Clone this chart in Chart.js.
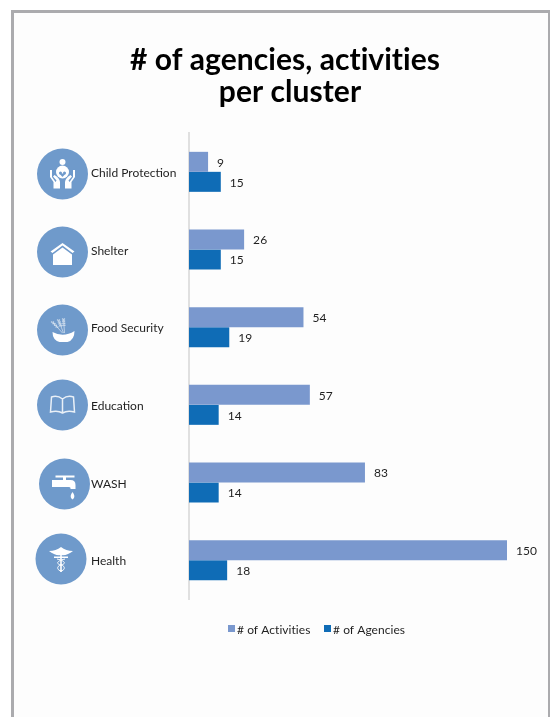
<!DOCTYPE html>
<html>
<head>
<meta charset="utf-8">
<title># of agencies, activities per cluster</title>
<script src="https://cdn.jsdelivr.net/npm/chart.js@4/dist/chart.umd.min.js"></script>
<style>
html, body { margin: 0; padding: 0; background: #fff; }
#frame {
    position: absolute; left: 11px; top: 10px; width: 534px; height: 707px;
    border: solid #ababae; border-width: 3px 3px 0 3px; background: #fdfdfd;
}
#wrap { position: absolute; left: 0; top: 0; width: 550px; height: 717px; }
</style>
</head>
<body>
<div id="frame"></div>
<div id="wrap"><canvas id="chart-area" width="550" height="717"></canvas></div>
<script>
var clusters = ['Child Protection', 'Shelter', 'Food Security', 'Education', 'WASH', 'Health'];
var activities = [9, 26, 54, 57, 83, 150];
var agencies = [15, 15, 19, 14, 14, 18];
var titleLines = ['# of agencies, activities', 'per cluster'];

var FONT = 'Lato, "Open Sans", sans-serif';
var TEXT = '#1f1f1f';
var BADGE = '#6f9acb';

// x, y of each cluster badge, same order as clusters
var badgeSpots = [[62.5, 174], [62.5, 252], [62.5, 330], [62.5, 405], [64.5, 484], [61, 559]];

function roundBlob(ctx, x, y, r) {
    ctx.beginPath();
    ctx.arc(x, y, r, 0, Math.PI * 2);
    ctx.fill();
}

function hand(ctx, s) {
    ctx.beginPath();
    ctx.moveTo(s * 12.5, -4);
    ctx.lineTo(s * 12.5, 3);
    ctx.lineTo(s * 9, 8);
    ctx.lineTo(s * 9, 14.5);
    ctx.lineTo(s * 2.5, 14.5);
    ctx.lineTo(s * 2.5, 8);
    ctx.quadraticCurveTo(s * 3, 4, s * 8, 1);
    ctx.lineTo(s * 9.5, 2.5);
    ctx.lineTo(s * 6, 6.5);
    ctx.lineTo(s * 7, 8);
    ctx.lineTo(s * 10.5, 3);
    ctx.lineTo(s * 10.5, -4);
    ctx.closePath();
    ctx.fill();
}

function wheat(ctx, x0, y0, x1, y1) {
    ctx.beginPath();
    ctx.moveTo(x0, y0);
    ctx.lineTo(x1, y1);
    ctx.stroke();
    for (var t = 0; t < 0.6; t += 0.15) {
        roundBlob(ctx, x0 + (x1 - x0) * t + 0.9, y0 + (y1 - y0) * t, 0.8);
        roundBlob(ctx, x0 + (x1 - x0) * t - 0.9, y0 + (y1 - y0) * t, 0.8);
    }
}

var icons = {
    'Child Protection': function (ctx) {
        roundBlob(ctx, 0, -12, 3);
        roundBlob(ctx, 0, -2, 6.5);
        ctx.fillStyle = BADGE;
        roundBlob(ctx, -2, -1, 1.5);
        roundBlob(ctx, 2, -1, 1.5);
        ctx.beginPath();
        ctx.moveTo(-3.2, -0.4);
        ctx.lineTo(3.2, -0.4);
        ctx.lineTo(0, 3);
        ctx.closePath();
        ctx.fill();
        ctx.fillStyle = '#fff';
        hand(ctx, -1);
        hand(ctx, 1);
    },
    'Shelter': function (ctx) {
        ctx.beginPath();
        ctx.moveTo(0, -9);
        ctx.lineTo(12, -0.5);
        ctx.lineTo(10, 1);
        ctx.lineTo(0, -6.5);
        ctx.lineTo(-10, 1);
        ctx.lineTo(-12, -0.5);
        ctx.closePath();
        ctx.fill();
        ctx.beginPath();
        ctx.moveTo(0, -4.5);
        ctx.lineTo(9.5, 2.5);
        ctx.lineTo(9.5, 13);
        ctx.lineTo(-9.5, 13);
        ctx.lineTo(-9.5, 2.5);
        ctx.closePath();
        ctx.fill();
    },
    'Food Security': function (ctx) {
        ctx.fillStyle = 'rgba(255,255,255,0.65)';
        ctx.strokeStyle = 'rgba(255,255,255,0.65)';
        ctx.lineWidth = 0.8;
        wheat(ctx, -10, -8, 0, 3);
        wheat(ctx, -4, -10, 1, 3);
        wheat(ctx, 1, -11, 2, 3);
        ctx.fillStyle = '#fff';
        ctx.beginPath();
        ctx.moveTo(-10, 2);
        ctx.quadraticCurveTo(1, 8, 12, 1);
        ctx.quadraticCurveTo(12, 10, 5, 12);
        ctx.lineTo(-3, 12);
        ctx.quadraticCurveTo(-10, 10, -10, 2);
        ctx.closePath();
        ctx.fill();
    },
    'Education': function (ctx) {
        ctx.strokeStyle = 'rgba(255,255,255,0.85)';
        ctx.lineWidth = 1.5;
        ctx.beginPath();
        ctx.moveTo(0, -6);
        ctx.quadraticCurveTo(-5, -10, -11, -8);
        ctx.lineTo(-12, 7);
        ctx.quadraticCurveTo(-5, 5, 0, 8);
        ctx.quadraticCurveTo(5, 5, 12, 7);
        ctx.lineTo(11, -8);
        ctx.quadraticCurveTo(5, -10, 0, -6);
        ctx.lineTo(0, 8);
        ctx.stroke();
    },
    'WASH': function (ctx) {
        ctx.fillRect(-9, -8.5, 19, 2);
        ctx.fillRect(-1.5, -7, 3, 3);
        ctx.beginPath();
        ctx.moveTo(-12.5, -4);
        ctx.lineTo(6, -4);
        ctx.quadraticCurveTo(11, -4, 11, 1);
        ctx.lineTo(11, 5);
        ctx.lineTo(6, 5);
        ctx.lineTo(6, 4);
        ctx.quadraticCurveTo(6, 3, 4, 3);
        ctx.lineTo(-12.5, 3);
        ctx.closePath();
        ctx.fill();
        ctx.beginPath();
        ctx.moveTo(8, 8);
        ctx.quadraticCurveTo(12, 13, 8, 15.5);
        ctx.quadraticCurveTo(4, 13, 8, 8);
        ctx.fill();
    },
    'Health': function (ctx) {
        ctx.beginPath();
        ctx.moveTo(-12, -8);
        ctx.quadraticCurveTo(-5, -8, 0, -12);
        ctx.quadraticCurveTo(5, -8, 12, -8);
        ctx.quadraticCurveTo(6, -3, 0, -4);
        ctx.quadraticCurveTo(-6, -3, -12, -8);
        ctx.fill();
        ctx.fillRect(-7, -2.5, 14, 1.5);
        ctx.fillRect(-0.8, -5, 1.6, 18);
        ctx.strokeStyle = '#fff';
        ctx.lineWidth = 1;
        ctx.beginPath();
        ctx.moveTo(-4, 0);
        ctx.bezierCurveTo(5, 2, 5, 5, 0, 6);
        ctx.bezierCurveTo(-5, 7, -4, 12, 1, 12);
        ctx.moveTo(4, 0);
        ctx.bezierCurveTo(-5, 2, -5, 5, 0, 6);
        ctx.bezierCurveTo(5, 7, 4, 12, -1, 12);
        ctx.stroke();
    }
};

// heading, badges, value labels and legend sit outside what the chart draws by itself
var extras = {
    id: 'extras',
    afterDraw: function (chart) {
        var ctx = chart.ctx;

        ctx.save();
        ctx.fillStyle = '#000';
        ctx.textAlign = 'center';
        ctx.textBaseline = 'middle';
        ctx.font = 'bold 30px ' + FONT;
        ctx.letterSpacing = '0.05px'; // keeps "ti" from joining up
        titleLines.forEach(function (line, i) {
            ctx.fillText(line, 285 + i * 5, 60 + i * 32);
        });
        ctx.restore();

        clusters.forEach(function (name, i) {
            ctx.save();
            ctx.translate(badgeSpots[i][0], badgeSpots[i][1]);
            ctx.fillStyle = BADGE;
            roundBlob(ctx, 0, 0, 25.5);
            ctx.fillStyle = '#fff';
            icons[name](ctx);
            ctx.restore();
        });

        ctx.save();
        ctx.fillStyle = TEXT;
        ctx.font = '12px ' + FONT;
        ctx.letterSpacing = '0.05px';
        ctx.textBaseline = 'middle';
        chart.data.datasets.forEach(function (set, d) {
            chart.getDatasetMeta(d).data.forEach(function (bar, i) {
                ctx.fillText(set.data[i], bar.x + 9, bar.y + 1);
            });
        });

        var spots = [228, 324];
        chart.data.datasets.forEach(function (set, d) {
            ctx.fillStyle = set.backgroundColor;
            ctx.fillRect(spots[d], 625, 7, 7);
            ctx.fillStyle = TEXT;
            ctx.fillText(set.label, spots[d] + 9, 630);
        });
        ctx.restore();
    }
};

var config = {
    type: 'bar',
    data: {
        labels: clusters,
        datasets: [
            { label: '# of Activities', data: activities, backgroundColor: '#7a98ce' },
            { label: '# of Agencies', data: agencies, backgroundColor: '#0f6cb6' }
        ]
    },
    options: {
        indexAxis: 'y',
        responsive: false,
        animation: false,
        categoryPercentage: 0.515,
        barPercentage: 1,
        layout: { padding: { left: 91, right: 43, top: 133, bottom: 118 } },
        plugins: {
            legend: { display: false },
            title: { display: false },
            tooltip: { enabled: false }
        },
        scales: {
            x: { display: false, min: 0, max: 150 },
            y: {
                afterFit: function (scale) { scale.width = 98; },
                grid: { display: false },
                border: { color: '#e0e0e0', width: 2 },
                ticks: {
                    crossAlign: 'far',
                    labelOffset: 1.4,
                    color: TEXT,
                    font: { family: FONT, size: 12 }
                }
            }
        }
    },
    plugins: [extras]
};

window.myBar = new Chart(document.getElementById('chart-area').getContext('2d'), config);
</script>
</body>
</html>
